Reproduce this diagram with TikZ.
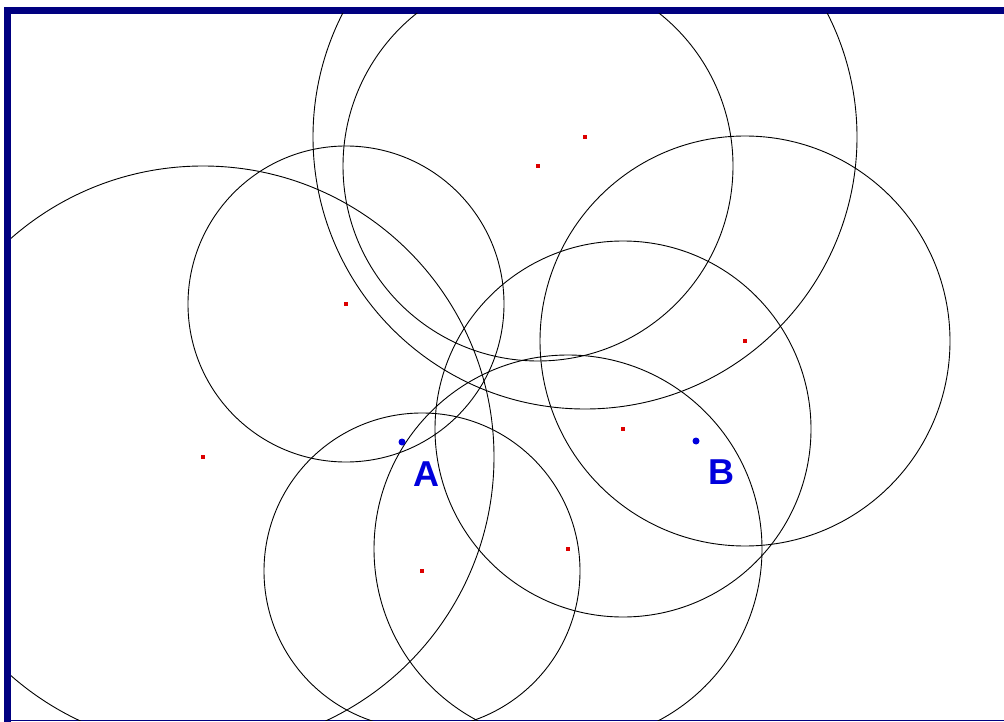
\documentclass[tikz,border=0pt]{standalone}
\usepackage{fontspec}
\setmainfont{Liberation Sans}
\usepackage{tikz}
\usetikzlibrary{positioning}
\definecolor{framenavy}{RGB}{0,0,128}
\definecolor{ptblue}{RGB}{0,0,220}
\definecolor{ctrred}{RGB}{220,0,0}
\tikzset{
  ring/.style={draw=black, line width=0.9pt},
  ctr/.style={rectangle, fill=ctrred, minimum size=4pt, inner sep=0pt},
  pt/.style={circle, fill=ptblue, minimum size=7pt, inner sep=0pt},
  ptlabel/.style={text=ptblue, inner sep=0pt, font=\fontsize{36}{36}\selectfont\bfseries}
}
\begin{document}
\begin{tikzpicture}[x=1pt,y=-1pt]
  \useasboundingbox (0,0) rectangle (1004,722);
  % frame
  \fill[framenavy] (4,7) rectangle (1004,14);
  \fill[framenavy] (4,7) rectangle (11,722);
  \draw[framenavy, line width=1.5pt] (4,720.5) -- (1004,720.5);
  % centres
  \node[ctr] (c1) at (585,137) {};
  \node[ctr] (c2) at (538,166) {};
  \node[ctr] (c3) at (346,304) {};
  \node[ctr] (c4) at (745,341) {};
  \node[ctr] (c5) at (623,429) {};
  \node[ctr] (c6) at (203,457) {};
  \node[ctr] (c7) at (568,549) {};
  \node[ctr] (c8) at (422,571) {};
  % circles
  \begin{scope}
    \clip (11,14) rectangle (1004,720);
    \draw[ring] (c1.center) circle[radius=272];
    \draw[ring] (c2.center) circle[radius=195];
    \draw[ring] (c3.center) circle[radius=158];
    \draw[ring] (c4.center) circle[radius=205];
    \draw[ring] (c5.center) circle[radius=188];
    \draw[ring] (c6.center) circle[radius=291];
    \draw[ring] (c7.center) circle[radius=194];
    \draw[ring] (c8.center) circle[radius=158];
  \end{scope}
  % points
  \node[pt] (ptA) at (402,442) {};
  \node[pt] (ptB) at (696,441) {};
  \node[ptlabel] (labA) at (426,474) {A};
  \node[ptlabel] (labB) at (721,472) {B};
\end{tikzpicture}
\end{document}
